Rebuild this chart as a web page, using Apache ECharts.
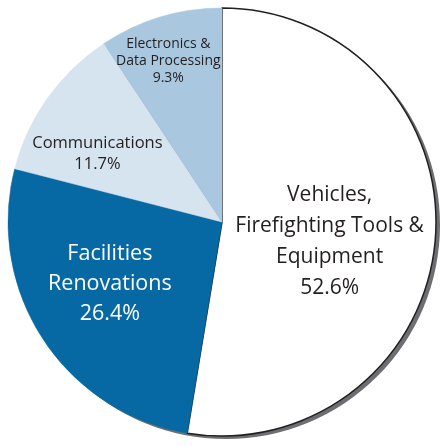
<!DOCTYPE html>
<html>
<head>
<meta charset="utf-8">
<script src="https://cdn.jsdelivr.net/npm/echarts@6/dist/echarts.min.js"></script>
<style>
  html, body { margin: 0; padding: 0; background: #fff; }
  #main { width: 443px; height: 447px; }
</style>
</head>
<body>
<div id="main"></div>
<script>
// slices, clockwise from 12 o'clock
var categories = ['Vehicles,\nFirefighting Tools &\nEquipment', 'Facilities\nRenovations', 'Communications', 'Electronics &\nData Processing'];
var values = [52.6, 26.4, 11.7, 9.3];
var colors = ['#ffffff', '#0769a3', '#d6e4f0', '#a9c7de'];

// label nudges away from the default inside spot
var labelShift = [
    { dx: -2, dy: 11 },
    { dx: -20, dy: 2 },
    { dx: -35, dy: -4 },
    { dx: -22, dy: -56 }
];

var chart = echarts.init(document.getElementById('main'));

function labelFor(i) {
    return categories[i] + '\n' + values[i].toFixed(1) + '%';
}

var textStyles = [
    { fontSize: 21, lineHeight: 31, color: '#231f20' },
    { fontSize: 21.5, lineHeight: 30, color: '#ffffff' },
    { fontSize: 16.5, lineHeight: 21, color: '#231f20' },
    { fontSize: 14, lineHeight: 17, color: '#231f20' }
];

var pieData = [];
for (var i = 0; i < values.length; i++) {
    var st = i === 0
        ? { color: colors[i], borderColor: '#231f20', borderWidth: 1.5 }
        : { color: colors[i], borderColor: colors[i], borderWidth: 0.5 };
    pieData.push({
        name: categories[i],
        value: values[i],
        itemStyle: st,
        label: textStyles[i]
    });
}

chart.setOption({
    animation: false,
    series: [
        {
            // grey drop edge
            type: 'pie',
            silent: true,
            center: [226, 225],
            radius: 214,
            startAngle: 90,
            label: { show: false },
            data: [{ value: 1, itemStyle: { color: '#6d6e71' } }]
        },
        {
            type: 'pie',
            center: [222, 222],
            radius: 214,
            startAngle: 90,
            clockwise: true,
            data: pieData,
            label: {
                show: true,
                position: 'inside',
                fontFamily: 'Open Sans',
                textBorderWidth: 0,
                formatter: function (p) { return labelFor(p.dataIndex); }
            },
            labelLayout: function (p) { return labelShift[p.dataIndex]; }
        }
    ]
});
</script>
</body>
</html>
